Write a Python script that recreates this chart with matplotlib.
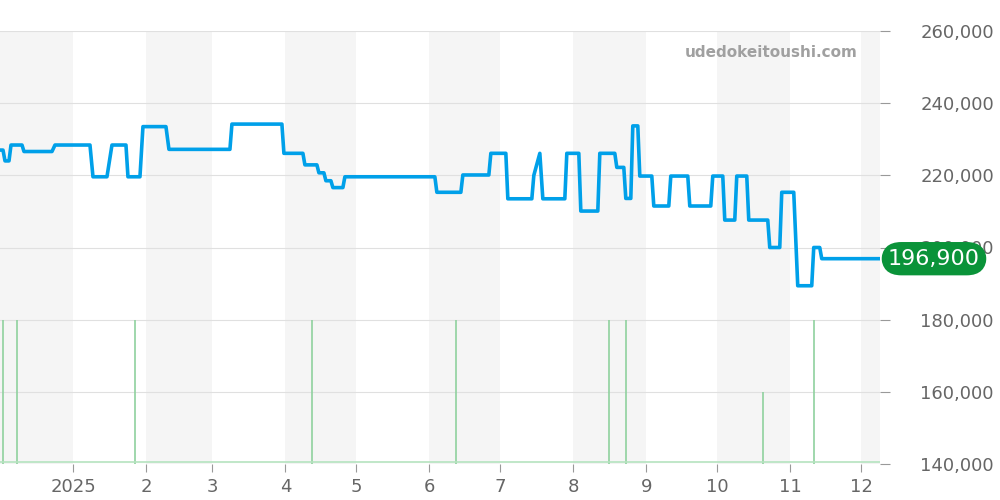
import matplotlib
matplotlib.use("Agg")
import matplotlib.pyplot as plt
import pandas as pd

start = pd.Timestamp("2024-12-01")
end = pd.Timestamp("2025-12-09")

# price steps: position (day offset * 2.36) and price in thousands of yen
pos = [0, 3, 5, 9, 11, 22, 24, 52, 55, 90, 93, 107, 112, 126, 128, 140, 143, 166, 169, 230,
       232, 282, 284, 303, 305, 317, 319, 324, 326, 331, 333, 343, 345, 435, 437, 461, 463, 489,
       491, 506, 508, 532, 534, 540, 543, 565, 567, 579, 581, 598, 600, 615, 617, 624, 626, 631,
       633, 638, 640, 652, 654, 669, 671, 688, 690, 711, 713, 723, 725, 735, 737, 747, 749, 768,
       770, 780, 782, 794, 798, 812, 814, 820, 822, 880]
price_k = [227, 227, 224, 224, 228.4, 228.4, 226.6, 226.6, 228.4, 228.4, 219.6, 219.6, 228.4, 228.4,
           219.6, 219.6, 233.5, 233.5, 227.2, 227.2, 234.2, 234.2, 226.1, 226.1, 222.9, 222.9, 220.7,
           220.7, 218.5, 218.5, 216.6, 216.6, 219.6, 219.6, 215.3, 215.3, 220.1, 220.1, 226.1, 226.1,
           213.5, 213.5, 220, 226.1, 213.5, 213.5, 226.1, 226.1, 210.1, 210.1, 226.1, 226.1, 222.2,
           222.2, 213.6, 213.6, 233.7, 233.7, 219.8, 219.8, 211.5, 211.5, 219.8, 219.8, 211.5, 211.5,
           219.8, 219.8, 207.6, 207.6, 219.8, 219.8, 207.6, 207.6, 200, 200, 215.3, 215.3, 189.4,
           189.4, 200, 200, 196.9, 196.9]

# listing count bars
bar_pos = [3, 17, 135, 312, 456, 609, 626, 763, 814]
bar_top_k = [180, 180, 180, 180, 180, 180, 180, 160, 180]

last_price = 196900
yticks = [140000, 160000, 180000, 200000, 220000, 240000, 260000]
month_labels = ["2025", "2", "3", "4", "5", "6", "7", "8", "9", "10", "11", "12"]

PX_PER_DAY = 2.36
dates = [start + pd.Timedelta(days=p / PX_PER_DAY) for p in pos]
prices = [v * 1000 for v in price_k]
bar_dates = [start + pd.Timedelta(days=p / PX_PER_DAY) for p in bar_pos]
bar_tops = [v * 1000 for v in bar_top_k]

fig = plt.figure(figsize=(10, 5), dpi=100)
ax = fig.add_axes([0, 36 / 500, 0.88, 433 / 500])

# alternating month shading
months = pd.date_range("2024-12-01", "2026-01-01", freq="MS")
for i in range(0, len(months) - 1, 2):
    ax.axvspan(months[i], months[i + 1], color="#f5f5f5", lw=0, zorder=0)

for y in yticks:
    ax.axhline(y, color="#e0e0e0", lw=0.8, zorder=1)

ax.vlines(bar_dates, 140000, bar_tops, color="#8fd19e", lw=1.2, zorder=2)
ax.axhline(140500, color="#b5e3bf", lw=1.2, zorder=2)
ax.plot(dates, prices, color="#00a0e9", lw=2.6, zorder=3)

ax.set_xlim(start, end)
ax.set_ylim(140000, 260000)
for s in ax.spines.values():
    s.set_visible(False)

ax.yaxis.tick_right()
ax.set_yticks(yticks)
ax.set_yticklabels([f"{v:,}" for v in yticks])
ax.tick_params(axis="y", length=7, color="#999999", labelcolor="#666666", labelsize=13, pad=22)
ax.set_xticks(months[1:-1])
ax.set_xticklabels(month_labels)
ax.tick_params(axis="x", length=6, color="#999999", labelcolor="#666666", labelsize=13, pad=4)

ax.text(0.975, 0.95, "udedokeitoushi.com", transform=ax.transAxes, ha="right", va="center",
        fontsize=11, fontweight="bold", color="#a0a0a0")

# last-price badge at figure level so it covers the tick label beneath
fig.canvas.draw()
_, y_disp = ax.transData.transform((0, last_price))
x_disp, _ = ax.transAxes.transform((1.0, 0))
fx, fy = fig.transFigure.inverted().transform((x_disp + 8, y_disp))
fig.text(fx, fy, f"{last_price:,}", ha="left", va="center", fontsize=16, color="white",
         bbox=dict(boxstyle="round,pad=0.3,rounding_size=0.9", fc="#0a9339", ec="none"))

fig.savefig("out.png", dpi=100)
